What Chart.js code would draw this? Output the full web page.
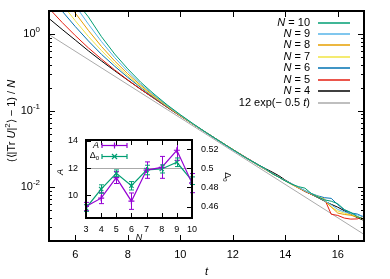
<!DOCTYPE html>
<html>
<head>
<meta charset="utf-8">
<script src="https://cdn.jsdelivr.net/npm/chart.js@4.4.1/dist/chart.umd.min.js"></script>
<style>
  html, body { margin: 0; padding: 0; background: #fff; }
  #wrap { position: relative; width: 390px; height: 279px; }
  #wrap canvas { position: absolute; left: 0; top: 0; }
</style>
</head>
<body>
<div id="wrap">
  <canvas id="mainChart" width="390" height="279"></canvas>
  <canvas id="insetChart" width="390" height="279"></canvas>
</div>
<script>
// ---- main panel data ----
const tGrid = [5, 5.5, 6, 6.5, 7, 7.5, 8, 8.5, 9, 9.5, 10, 10.5, 11, 11.5, 12, 12.5, 13,
  13.25, 13.5, 13.75, 14, 14.25, 14.5, 14.75, 15, 15.25, 15.5, 15.75, 16, 16.25, 16.5, 16.75, 17];

const n10 = [6.9, 4.45, 2.749, 1.675, 0.924, 0.550, 0.3517, 0.2345, 0.1653, 0.1194, 0.089, 0.0674, 0.0516, 0.0401, 0.03124, 0.02433, 0.01949,
  0.01752, 0.01517, 0.01364, 0.01214, 0.01101, 0.01024, 0.00978, 0.00830, 0.00750, 0.00688, 0.00661, 0.00613, 0.00515, 0.00471, 0.00416, 0.00386];
const n9 = [5.91, 3.682, 2.36, 1.349, 0.797, 0.494, 0.3253, 0.2226, 0.16, 0.1173, 0.0882, 0.0668, 0.0516, 0.0401, 0.03094, 0.02433, 0.01931,
  0.01720, 0.01531, 0.01364, 0.01225, 0.01111, 0.01007, 0.00902, 0.00823, 0.00750, 0.00672, 0.00593, 0.00516, 0.00479, 0.00455, 0.00438, 0.00415];
const n8 = [4.73, 2.992, 1.882, 1.117, 0.689, 0.446, 0.3033, 0.214, 0.156, 0.1163, 0.0874, 0.0668, 0.0516, 0.0401, 0.03124, 0.02433, 0.01913,
  0.01705, 0.01517, 0.01364, 0.01225, 0.01101, 0.00998, 0.00895, 0.00817, 0.00744, 0.00672, 0.00556, 0.00463, 0.00444, 0.00433, 0.00410, 0.00390];
const n7 = [3.94, 2.455, 1.494, 0.931, 0.609, 0.409, 0.2857, 0.2054, 0.152, 0.1142, 0.0866, 0.0662, 0.0516, 0.0401, 0.03124, 0.02433, 0.01931,
  0.01720, 0.01517, 0.01364, 0.01214, 0.01092, 0.00989, 0.00902, 0.00823, 0.00762, 0.00698, 0.00556, 0.00492, 0.00462, 0.00440, 0.00416, 0.00378];
const n6 = [3.25, 1.994, 1.255, 0.814, 0.5436, 0.381, 0.2726, 0.2003, 0.1493, 0.1131, 0.0866, 0.0662, 0.0511, 0.0397, 0.03094, 0.02433, 0.01913,
  0.01705, 0.01517, 0.01364, 0.01225, 0.01101, 0.00998, 0.00910, 0.00830, 0.00774, 0.00734, 0.00720, 0.00596, 0.00508, 0.00465, 0.00449, 0.00410];
const n5 = [2.167, 1.419, 0.956, 0.661, 0.4711, 0.3415, 0.2528, 0.190, 0.1453, 0.1111, 0.0858, 0.0662, 0.0516, 0.0401, 0.03124, 0.02456, 0.01931,
  0.01720, 0.01531, 0.01364, 0.01225, 0.01092, 0.00981, 0.00887, 0.00810, 0.00750, 0.00703, 0.00447, 0.00431, 0.00398, 0.00386, 0.00388, 0.00427];
const n4 = [1.596, 1.151, 0.8365, 0.605, 0.4458, 0.333, 0.2506, 0.190, 0.1453, 0.1111, 0.0858, 0.0662, 0.0516, 0.0401, 0.03124, 0.02456, 0.01949,
  0.01752, 0.01588, 0.01426, 0.01247, 0.01111, 0.00989, 0.00887, 0.00810, 0.00733, 0.00662, 0.00602, 0.00552, 0.00497, 0.00446, 0.00402, 0.00371];

const fitT = [5, 17];
const fitVals = [0.985, 0.00244];

const seriesN = ['10', '9', '8', '7', '6', '5', '4'];
const seriesVals = [n10, n9, n8, n7, n6, n5, n4];
const seriesColors = ['#009e73', '#56b4e9', '#e69f00', '#f0e442', '#0072b2', '#e51e10', '#000000'];
const fitColor = '#aaaaaa';

const xTickValues = [6, 8, 10, 12, 14, 16];
const yMajorTicks = [1, 0.1, 0.01];
const yMajorExp = ['0', '-1', '-2'];

// ---- inset data ----
const insetN = [3, 4, 5, 6, 7, 8, 9, 10];
const ampA = [9.19, 9.8, 11.3, 9.58, 11.85, 12.05, 13.3, 10.9];
const ampErr = [0.3, 0.4, 0.43, 0.6, 0.6, 0.8, 0.73, 0.7];
const delta0 = [0.4584, 0.4783, 0.4948, 0.4817, 0.4982, 0.4993, 0.5063, 0.487];
const deltaErr = [0.0035, 0.0044, 0.0035, 0.0044, 0.005, 0.0042, 0.0045, 0.004];
const ampTicks = [10, 12, 14];
const deltaTicks = [0.46, 0.48, 0.5, 0.52];
const deltaTickLabels = ['0.46', '0.48', '0.5', '0.52'];
const purple = '#9400d3';
const teal = '#009e73';

const FONT = '"Liberation Sans", Arial, Helvetica, sans-serif';

// draw a run of text pieces: [text, 'n' | 'i' | 'sup' | 'sub']
function drawRich(ctx, parts, x, y, align, size) {
  const small = Math.round(size * 0.72);
  const fontOf = st => st === 'i' ? `italic ${size}px ${FONT}`
    : (st === 'sup' || st === 'sub') ? `${small}px ${FONT}` : `${size}px ${FONT}`;
  let total = 0;
  parts.forEach(p => { ctx.font = fontOf(p[1]); total += ctx.measureText(p[0]).width; });
  let cx = align === 'right' ? x - total : align === 'center' ? x - total / 2 : x;
  ctx.textAlign = 'left';
  ctx.textBaseline = 'middle';
  parts.forEach(p => {
    ctx.font = fontOf(p[1]);
    const dy = p[1] === 'sup' ? -size * 0.38 : p[1] === 'sub' ? size * 0.3 : 0;
    ctx.fillText(p[0], cx, y + dy);
    cx += ctx.measureText(p[0]).width;
  });
}

function seg(ctx, x1, y1, x2, y2) {
  ctx.beginPath(); ctx.moveTo(x1, y1); ctx.lineTo(x2, y2); ctx.stroke();
}

// ---- main chart ----
const yMinorTicks = [];
[0.001, 0.01, 0.1, 1].forEach(d => {
  for (let m = 2; m <= 9; m++) {
    const v = d * m;
    if (v >= 0.002 && v <= 2) yMinorTicks.push(v);
  }
});

const mainDecor = {
  id: 'mainDecor',
  afterDatasetsDraw(chart) {
    const { ctx, chartArea: a, scales: { x, y } } = chart;
    ctx.save();
    ctx.strokeStyle = '#000';
    ctx.fillStyle = '#000';
    ctx.lineWidth = 1;
    xTickValues.forEach(v => {
      const px = Math.round(x.getPixelForValue(v)) + 0.5;
      seg(ctx, px, a.bottom, px, a.bottom - 6);
      seg(ctx, px, a.top, px, a.top + 6);
    });
    yMajorTicks.forEach(v => {
      const py = Math.round(y.getPixelForValue(v)) + 0.5;
      seg(ctx, a.left, py, a.left + 6, py);
      seg(ctx, a.right, py, a.right - 6, py);
    });
    yMinorTicks.forEach(v => {
      const py = Math.round(y.getPixelForValue(v)) + 0.5;
      seg(ctx, a.left, py, a.left + 3, py);
      seg(ctx, a.right, py, a.right - 3, py);
    });
    ctx.lineWidth = 2;
    ctx.strokeRect(a.left, a.top, a.right - a.left, a.bottom - a.top);

    // y tick labels with exponents
    yMajorTicks.forEach((v, i) => {
      drawRich(ctx, [['10', 'n'], [yMajorExp[i], 'sup']], 40, y.getPixelForValue(v), 'right', 11);
    });

    // axis titles
    drawRich(ctx, [['t', 'i']], (a.left + a.right) / 2, 272, 'center', 11);
    ctx.save();
    ctx.translate(12, 121);
    ctx.rotate(-Math.PI / 2);
    drawRich(ctx, [['(\u27E8|Tr ', 'n'], ['U', 'i'], ['|', 'n'], ['2', 'sup'], ['\u27E9 \u2212 1) / ', 'n'], ['N', 'i']], 0, 0, 'center', 11);
    ctx.restore();

    // key
    const rowY0 = 22.5, rowStep = 11.45;
    ctx.lineWidth = 1.5;
    seriesN.forEach((n, i) => {
      const ry = rowY0 + i * rowStep;
      drawRich(ctx, [['N', 'i'], [' = ' + n, 'n']], 310, ry, 'right', 11);
      ctx.strokeStyle = seriesColors[i];
      seg(ctx, 318, Math.round(ry), 350, Math.round(ry));
    });
    const fy = rowY0 + seriesN.length * rowStep;
    drawRich(ctx, [['12 exp(\u2212 0.5 ', 'n'], ['t', 'i'], [')', 'n']], 310, fy, 'right', 11);
    ctx.strokeStyle = fitColor;
    seg(ctx, 318, Math.round(fy), 350, Math.round(fy));
    ctx.restore();
  }
};

const mainDatasets = seriesVals.map((vals, i) => ({
  label: 'N = ' + seriesN[i],
  data: tGrid.map((t, k) => ({ x: t, y: vals[k] })),
  borderColor: seriesColors[i],
  borderWidth: 1,
  pointRadius: 0,
  tension: 0,
  fill: false
}));
mainDatasets.push({
  label: '12 exp(-0.5 t)',
  data: fitT.map((t, k) => ({ x: t, y: fitVals[k] })),
  borderColor: fitColor,
  borderWidth: 1,
  pointRadius: 0,
  fill: false
});

new Chart(document.getElementById('mainChart'), {
  type: 'line',
  data: { datasets: mainDatasets },
  options: {
    responsive: false,
    animation: false,
    devicePixelRatio: 1,
    layout: { padding: { left: 0, top: 11, right: 26, bottom: 0 } },
    plugins: { legend: { display: false }, tooltip: { enabled: false } },
    scales: {
      x: {
        type: 'linear', min: 5, max: 17,
        afterBuildTicks: s => { s.ticks = xTickValues.map(v => ({ value: v })); },
        afterFit: s => { s.height = 38; },
        grid: { display: false, drawTicks: false },
        border: { display: false },
        ticks: { padding: 7, color: '#000', maxRotation: 0, autoSkip: false, font: { family: FONT, size: 11 } }
      },
      y: {
        type: 'logarithmic', min: 0.002, max: 2,
        afterFit: s => { s.width = 49; },
        grid: { display: false, drawTicks: false },
        border: { display: false },
        ticks: { display: false }
      }
    }
  },
  plugins: [mainDecor]
});

// ---- inset ----
const insetDecor = {
  id: 'insetDecor',
  beforeDatasetsDraw(chart) {
    const { ctx, chartArea: a, scales: { yA } } = chart;
    ctx.save();
    ctx.strokeStyle = fitColor;
    ctx.lineWidth = 1;
    const py = Math.round(yA.getPixelForValue(12)) + 0.5;
    seg(ctx, a.left, py, a.right, py);
    ctx.restore();
  },
  afterDatasetsDraw(chart) {
    const { ctx, chartArea: a, scales } = chart;
    const x = scales.x;
    ctx.save();
    // error bars
    chart.data.datasets.forEach(ds => {
      const ys = scales[ds.yAxisID];
      ctx.strokeStyle = ds.borderColor;
      ctx.lineWidth = 1;
      ds.data.forEach((p, k) => {
        const px = Math.round(x.getPixelForValue(p.x)) + 0.5;
        const top = ys.getPixelForValue(p.y + ds.errors[k]);
        const bot = ys.getPixelForValue(p.y - ds.errors[k]);
        seg(ctx, px, top, px, bot);
        seg(ctx, px - 2.5, top, px + 2.5, top);
        seg(ctx, px - 2.5, bot, px + 2.5, bot);
      });
    });
    // ticks
    ctx.strokeStyle = '#000';
    ctx.lineWidth = 1;
    insetN.forEach(v => {
      const px = Math.round(x.getPixelForValue(v)) + 0.5;
      seg(ctx, px, a.bottom, px, a.bottom - 5);
      seg(ctx, px, a.top, px, a.top + 5);
    });
    ampTicks.forEach(v => {
      const py = Math.round(scales.yA.getPixelForValue(v)) + 0.5;
      seg(ctx, a.left, py, a.left + 5, py);
    });
    deltaTicks.forEach(v => {
      const py = Math.round(scales.yD.getPixelForValue(v)) + 0.5;
      seg(ctx, a.right, py, a.right - 5, py);
    });
    ctx.lineWidth = 2;
    ctx.strokeRect(a.left, a.top, a.right - a.left, a.bottom - a.top);

    // titles
    ctx.fillStyle = '#000';
    drawRich(ctx, [['N', 'i']], (a.left + a.right) / 2, 237, 'center', 9);
    ctx.save();
    ctx.translate(60, 172);
    ctx.rotate(-Math.PI / 2);
    drawRich(ctx, [['A', 'i']], 0, 0, 'center', 9);
    ctx.restore();
    ctx.save();
    ctx.translate(227, 177);
    ctx.rotate(Math.PI / 2);
    drawRich(ctx, [['\u0394', 'n'], ['0', 'sub']], 0, 0, 'center', 9);
    ctx.restore();

    // key
    const keys = [[['A', 'i']], [['\u0394', 'n'], ['0', 'sub']]];
    const keyRows = [145, 156];
    chart.data.datasets.forEach((ds, i) => {
      const ry = keyRows[i];
      ctx.fillStyle = '#000';
      drawRich(ctx, keys[i], 99, ry, 'right', 9);
      ctx.strokeStyle = ds.borderColor;
      ctx.lineWidth = 1.2;
      const yy = ry + 0.5;
      seg(ctx, 102, yy, 127, yy);
      seg(ctx, 102, yy - 2.5, 102, yy + 2.5);
      seg(ctx, 127, yy - 2.5, 127, yy + 2.5);
      const cx = 114.5;
      if (i === 0) {
        seg(ctx, cx - 3, yy, cx + 3, yy);
        seg(ctx, cx, yy - 3, cx, yy + 3);
      } else {
        seg(ctx, cx - 2.5, yy - 2.5, cx + 2.5, yy + 2.5);
        seg(ctx, cx - 2.5, yy + 2.5, cx + 2.5, yy - 2.5);
      }
    });
    ctx.restore();
  }
};

new Chart(document.getElementById('insetChart'), {
  type: 'line',
  data: {
    datasets: [
      {
        label: 'A',
        data: insetN.map((n, k) => ({ x: n, y: ampA[k] })),
        errors: ampErr,
        yAxisID: 'yA',
        borderColor: purple,
        backgroundColor: purple,
        borderWidth: 1.2,
        pointStyle: 'cross',
        pointRadius: 3,
        pointBorderWidth: 1.2,
        tension: 0
      },
      {
        label: '\u03940',
        data: insetN.map((n, k) => ({ x: n, y: delta0[k] })),
        errors: deltaErr,
        yAxisID: 'yD',
        borderColor: teal,
        backgroundColor: teal,
        borderWidth: 1.2,
        pointStyle: 'crossRot',
        pointRadius: 3,
        pointBorderWidth: 1.2,
        tension: 0
      }
    ]
  },
  options: {
    responsive: false,
    animation: false,
    devicePixelRatio: 1,
    layout: { padding: { left: 50, top: 140, right: 160, bottom: 39 } },
    plugins: { legend: { display: false }, tooltip: { enabled: false } },
    scales: {
      x: {
        type: 'linear', min: 3, max: 10,
        afterBuildTicks: s => { s.ticks = insetN.map(v => ({ value: v })); },
        afterFit: s => { s.height = 22; },
        grid: { display: false, drawTicks: false },
        border: { display: false },
        ticks: { padding: 6, color: '#000', maxRotation: 0, autoSkip: false, font: { family: FONT, size: 9 } }
      },
      yA: {
        type: 'linear', position: 'left', min: 8.35, max: 14.05,
        afterBuildTicks: s => { s.ticks = ampTicks.map(v => ({ value: v })); },
        afterFit: s => { s.width = 36; },
        grid: { display: false, drawTicks: false },
        border: { display: false },
        ticks: { padding: 8, color: '#000', font: { family: FONT, size: 9 } }
      },
      yD: {
        type: 'linear', position: 'right', min: 0.448, max: 0.5296,
        afterBuildTicks: s => { s.ticks = deltaTicks.map(v => ({ value: v })); },
        afterFit: s => { s.width = 38; },
        grid: { display: false, drawTicks: false },
        border: { display: false },
        ticks: {
          padding: 9, color: '#000', font: { family: FONT, size: 9 },
          callback: (v, i) => deltaTickLabels[i]
        }
      }
    }
  },
  plugins: [insetDecor]
});
</script>
</body>
</html>
